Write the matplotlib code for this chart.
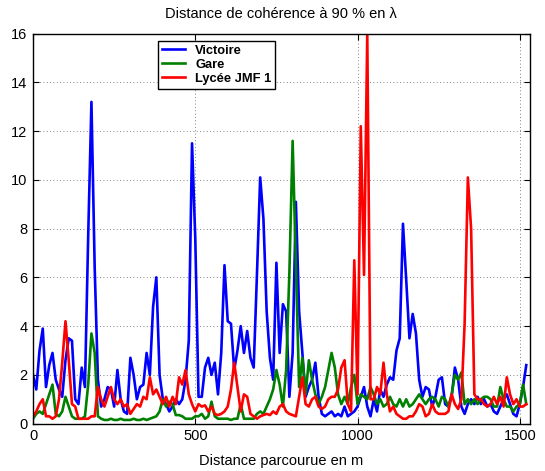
import numpy as np
import matplotlib
matplotlib.use('Agg')
import matplotlib.pyplot as plt

plt.rcParams['font.family'] = ['Liberation Sans', 'DejaVu Sans']

# distance parcourue (m), pas de 10 m
distance = np.arange(0, 1530, 10)

victoire = [
    2.0, 1.4, 3.0, 3.9, 1.5, 2.4, 2.9, 1.8, 1.4, 1.1,
    2.6, 3.5, 3.4, 1.0, 0.8, 2.3, 1.5, 7.7, 13.2, 6.4,
    1.8, 0.7, 1.0, 1.5, 1.4, 0.7, 2.2, 1.0, 0.5, 0.4,
    2.7, 2.0, 1.0, 1.5, 1.6, 2.9, 2.0, 4.8, 6.0, 2.0,
    1.0, 0.8, 0.5, 0.7, 1.0, 0.8, 1.0, 1.8, 3.4, 11.5,
    7.6, 1.1, 1.1, 2.3, 2.7, 2.0, 2.5, 1.2, 2.9, 6.5,
    4.2, 4.1, 2.2, 3.0, 4.0, 2.9, 3.8, 2.7, 2.3, 6.1,
    10.1, 8.4, 4.6, 2.7, 1.8, 6.6, 2.9, 4.9, 4.6, 1.1,
    2.9, 9.1, 4.6, 2.9, 1.1, 1.5, 1.8, 2.5, 1.1, 0.4,
    0.3, 0.4, 0.5, 0.3, 0.4, 0.3, 0.7, 0.3, 0.4, 0.5,
    0.7, 1.1, 1.5, 0.7, 0.3, 1.0, 0.5, 1.4, 1.1, 1.6,
    1.9, 1.8, 3.0, 3.5, 8.2, 5.9, 3.5, 4.5, 3.7, 1.8,
    1.1, 1.5, 1.4, 0.7, 1.1, 1.8, 1.9, 0.8, 0.7, 1.1,
    2.3, 1.8, 0.7, 0.4, 0.8, 1.0, 0.8, 1.1, 0.8, 1.0,
    0.7, 0.8, 0.5, 0.4, 0.7, 1.0, 1.2, 0.8, 0.4, 0.3,
    0.8, 1.5, 2.4,
]

gare = [
    0.2, 0.4, 0.5, 0.4, 0.8, 1.2, 1.6, 0.4, 0.3, 0.5,
    1.1, 0.7, 0.3, 0.2, 0.2, 0.2, 0.3, 1.6, 3.7, 2.9,
    0.3, 0.2, 0.15, 0.15, 0.2, 0.15, 0.15, 0.2, 0.15, 0.15,
    0.15, 0.2, 0.15, 0.15, 0.2, 0.15, 0.2, 0.25, 0.3, 0.5,
    1.0, 0.7, 0.9, 0.8, 0.35, 0.35, 0.3, 0.2, 0.2, 0.2,
    0.3, 0.3, 0.4, 0.2, 0.3, 0.9, 0.3, 0.2, 0.2, 0.2,
    0.2, 0.15, 0.2, 0.2, 0.8, 0.2, 0.2, 0.2, 0.2, 0.4,
    0.5, 0.4, 0.7, 1.0, 1.4, 2.2, 1.6, 0.7, 2.2, 6.2,
    11.6, 6.5, 1.5, 2.7, 1.2, 2.6, 1.8, 1.2, 0.8, 1.1,
    1.5, 2.2, 2.9, 2.3, 1.2, 0.8, 1.1, 0.8, 1.5, 2.0,
    0.8, 1.2, 1.1, 1.0, 1.5, 1.2, 0.8, 1.0, 0.7, 0.8,
    1.1, 0.8, 0.7, 1.0, 0.7, 1.0, 0.7, 0.8, 1.0, 1.2,
    1.0, 0.8, 1.0, 1.1, 1.0, 0.7, 1.1, 1.0, 0.7, 1.2,
    2.0, 1.8, 2.1, 0.8, 1.0, 0.8, 1.0, 0.8, 1.0, 1.1,
    1.1, 1.0, 0.7, 0.7, 1.5, 1.0, 0.7, 0.7, 0.5, 0.7,
    0.8, 1.6, 0.8,
]

lycee = [
    0.3, 0.5, 0.8, 1.0, 0.3, 0.3, 0.2, 0.3, 1.0, 2.5,
    4.2, 2.6, 0.8, 0.7, 0.2, 0.2, 0.2, 0.2, 0.3, 0.3,
    1.5, 1.0, 0.7, 1.1, 1.5, 1.0, 0.8, 1.0, 0.7, 0.8,
    0.4, 0.6, 0.8, 0.7, 1.1, 1.0, 1.9, 1.2, 1.4, 1.1,
    0.8, 1.1, 0.7, 1.1, 0.8, 1.9, 1.6, 2.2, 1.2, 0.8,
    0.5, 0.8, 0.7, 0.75, 0.5, 0.7, 0.4, 0.35, 0.4, 0.5,
    0.7, 1.4, 2.5, 1.5, 0.5, 1.2, 1.1, 0.4, 0.3, 0.2,
    0.3, 0.35, 0.4, 0.35, 0.5, 0.4, 0.7, 0.8, 0.5, 0.4,
    0.35, 0.3, 1.1, 1.9, 0.8, 0.7, 1.0, 1.1, 0.7, 0.6,
    0.7, 1.0, 1.1, 1.1, 1.4, 2.3, 2.6, 0.8, 0.5, 6.7,
    1.2, 12.2, 6.1, 16.0, 1.0, 1.0, 1.5, 1.2, 2.5, 1.2,
    0.5, 0.7, 0.4, 0.3, 0.2, 0.2, 0.3, 0.3, 0.5, 0.8,
    0.7, 0.3, 0.4, 0.8, 0.5, 0.4, 0.4, 0.4, 0.5, 1.2,
    0.8, 0.6, 1.0, 4.1, 10.1, 8.0, 1.2, 1.0, 1.0, 0.8,
    0.7, 0.8, 1.1, 0.8, 1.1, 0.7, 1.9, 1.2, 0.8, 1.0,
    0.7, 0.7, 0.8,
]

fig = plt.figure(figsize=(5.45, 4.71), dpi=100)
ax = fig.add_axes([0.0606, 0.1006, 0.911, 0.828])

ax.plot(distance, victoire, color=(0, 0, 1), linewidth=1.9, label='Victoire')
ax.plot(distance, gare, color=(0, 0.5, 0), linewidth=1.9, label='Gare')
ax.plot(distance, lycee, color=(1, 0, 0), linewidth=1.9, label='Lycée JMF 1')

ax.set_xlim(0, 1530)
ax.set_ylim(0, 16)
ax.set_xticks([0, 500, 1000, 1500])
ax.set_yticks(np.arange(0, 17, 2))
ax.tick_params(direction='in', top=True, right=True, length=4, labelsize=10.5, pad=4)
ax.grid(True, linestyle=(0, (1, 3)), color='0.35', linewidth=0.6)
for s in ax.spines.values():
    s.set_linewidth(1.0)

ax.set_title('Distance de cohérence à 90 % en λ', fontsize=10.5, pad=11)
ax.set_xlabel('Distance parcourue en m', fontsize=10.5, labelpad=8)

leg = ax.legend(loc='upper left', bbox_to_anchor=(0.238, 0.998), fancybox=False,
                framealpha=1, edgecolor='black', handlelength=1.8,
                borderpad=0.3, labelspacing=0.15, handletextpad=0.8,
                prop={'weight': 'bold', 'size': 9.3})
leg.get_frame().set_linewidth(1.0)

fig.savefig('out.png', dpi=100)
